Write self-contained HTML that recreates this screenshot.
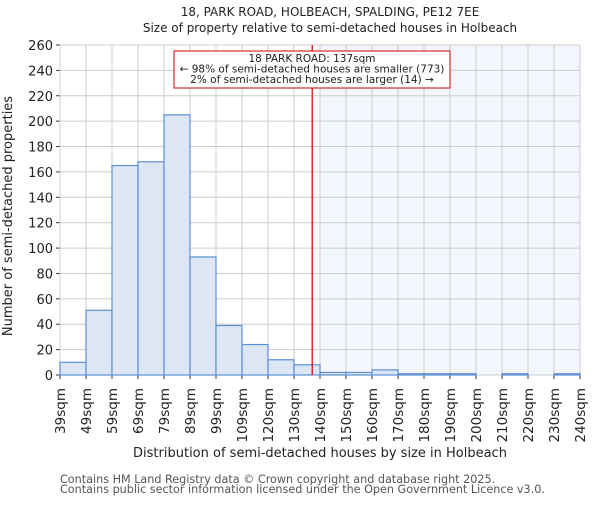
<!DOCTYPE html>
<html><head><meta charset="utf-8"><style>body{margin:0;background:#fff}svg text{font-family:"DejaVu Sans","Liberation Sans",sans-serif;fill:#222}</style></head>
<body>
<svg id="c" width="600" height="500" xmlns="http://www.w3.org/2000/svg">
<text x="330" y="16" font-size="12" text-anchor="middle">18, PARK ROAD, HOLBEACH, SPALDING, PE12 7EE</text>
<text x="330" y="32" font-size="12" text-anchor="middle">Size of property relative to semi-detached houses in Holbeach</text>
<g id="plot"></g>
<text x="320" y="457" font-size="13" text-anchor="middle">Distribution of semi-detached houses by size in Holbeach</text>
<text transform="translate(12,216) rotate(-90)" font-size="13" text-anchor="middle">Number of semi-detached properties</text>
<text x="60" y="483" font-size="11.2" style="fill:#555">Contains HM Land Registry data © Crown copyright and database right 2025.</text>
<text x="60" y="493" font-size="11.2" style="fill:#555">Contains public sector information licensed under the Open Government Licence v3.0.</text>
</svg>
<script>
const categories=["39sqm","49sqm","59sqm","69sqm","79sqm","89sqm","99sqm","109sqm","120sqm","130sqm","140sqm","150sqm","160sqm","170sqm","180sqm","190sqm","200sqm","210sqm","220sqm","230sqm","240sqm"];
const counts=[10,51,165,168,205,93,39,24,12,8,2,2,4,1,1,1,0,1,0,1];
const yTicks=[0,20,40,60,80,100,120,140,160,180,200,220,240,260];
const markerBin=9.7;
const ns="http://www.w3.org/2000/svg";
const L=60,R=580,T=45,B=375,n=counts.length,bw=(R-L)/n;
const x=i=>L+i*bw, y=v=>B-(v/260)*(B-T);
const g=document.getElementById('plot');
function mk(t,a,p){const e=document.createElementNS(ns,t);for(const k in a)e.setAttribute(k,a[k]);(p||g).appendChild(e);return e;}
let sh=mk('rect',{x:x(10),y:T,width:R-x(10),height:B-T,fill:'#f4f6fd'});


yTicks.forEach(v=>{let l=mk('line',{x1:L,x2:R,y1:y(v),y2:y(v),stroke:'#ccc'});


let tk=mk('line',{x1:L-4,x2:L,y1:y(v),y2:y(v),stroke:'#333'});


let t=mk('text',{x:L-7,y:y(v)+5,'font-size':13,'text-anchor':'end'});t.textContent=v;

});
categories.forEach((c,i)=>{let l=mk('line',{x1:x(i),x2:x(i),y1:T,y2:B,stroke:'#ccc'});


let tk=mk('line',{x1:x(i),x2:x(i),y1:B,y2:B+4,stroke:'#333'});


let t=mk('text',{transform:`translate(${x(i)+5},${B+13}) rotate(-90)`,'font-size':13.5,'text-anchor':'end'});t.textContent=c;

});
counts.forEach((v,i)=>{if(v<=0)return;let r=mk('rect',{x:x(i),y:y(v),width:bw,height:B-y(v),fill:'#dce6f4',stroke:'#5b8fd6','stroke-width':1.2});

});
let ml=mk('line',{x1:x(markerBin),x2:x(markerBin),y1:T,y2:B,stroke:'#c00','stroke-width':1.2});


let bx=mk('rect',{x:174,y:51,width:276,height:37,fill:'#fff',stroke:'#c00'});


["18 PARK ROAD: 137sqm","← 98% of semi-detached houses are smaller (773)","2% of semi-detached houses are larger (14) →"].forEach((s,k)=>{let t=mk('text',{x:312,y:62+k*10.5,'font-size':10.5,'text-anchor':'middle'});t.textContent=s;

});
</script>
</body></html>
